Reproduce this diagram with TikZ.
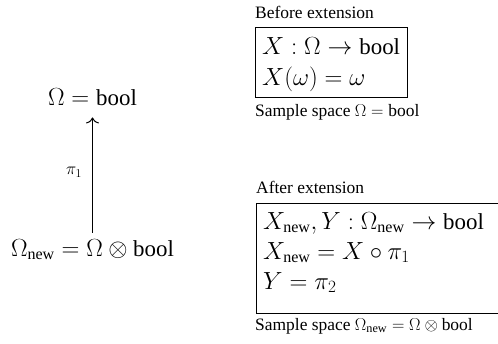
\documentclass[tikz,border=0pt]{standalone}
\usepackage{amsmath,amssymb}
\usepackage{fontspec}
\setmainfont{Liberation Serif}
\usetikzlibrary{arrows.meta}

\newcommand{\bool}{\text{bool}}
\newcommand{\nw}{\text{new}}

\begin{document}
\begin{tikzpicture}[x=1bp,y=1bp,>={Computer Modern Rightarrow[length=6bp,width=13bp]},
  big/.style={font=\fontsize{23}{27}\selectfont,inner sep=0pt},
  small/.style={font=\fontsize{17.5}{21}\selectfont,inner sep=0pt},
  frame/.style={draw,line width=1bp,inner sep=0pt,anchor=north west}]
  \useasboundingbox (0,0) rectangle (498,343);
  % sample spaces and the projection
  \node[big,anchor=base] (omega) at (92.5,238) {$\Omega = \bool$};
  \node[big,anchor=base] (omeganew) at (92.5,87) {$\Omega_{\nw} = \Omega \otimes \bool$};
  \draw[->,line width=1bp,shorten <=6bp,shorten >=12bp] (omeganew.north) -- (omeganew.north |- omega.south)
    node[small,midway,left=10bp] (proj) {$\pi_1$};
  % before extension
  \node[small,anchor=base west] (beforelbl) at (255,325) {Before extension};
  \node[frame,minimum width=152bp,minimum height=70bp] (before) at (255,316) {};
  \node[big,anchor=base west] (xtype) at (262,289) {$X : \Omega \to \bool$};
  \node[big,anchor=base west] (xdef) at (262,258) {$X(\omega) = \omega$};
  \node[small,anchor=base west] (beforecap) at (255,227) {Sample space $\Omega = \bool$};
  % after extension
  \node[small,anchor=base west] (afterlbl) at (256,150) {After extension};
  \node[frame,minimum width=241.5bp,minimum height=110bp] (after) at (256,140) {};
  \node[big,anchor=base west] (xytype) at (263,114) {$X_{\nw}, Y : \Omega_{\nw} \to \bool$};
  \node[big,anchor=base west] (xnew) at (263,84) {$X_{\nw} = X \circ \pi_1$};
  \node[big,anchor=base west] (ydef) at (263,54) {$Y = \pi_2$};
  \node[small,anchor=base west] (aftercap) at (255,13) {Sample space $\Omega_{\nw} = \Omega \otimes \bool$};
\end{tikzpicture}
\end{document}
